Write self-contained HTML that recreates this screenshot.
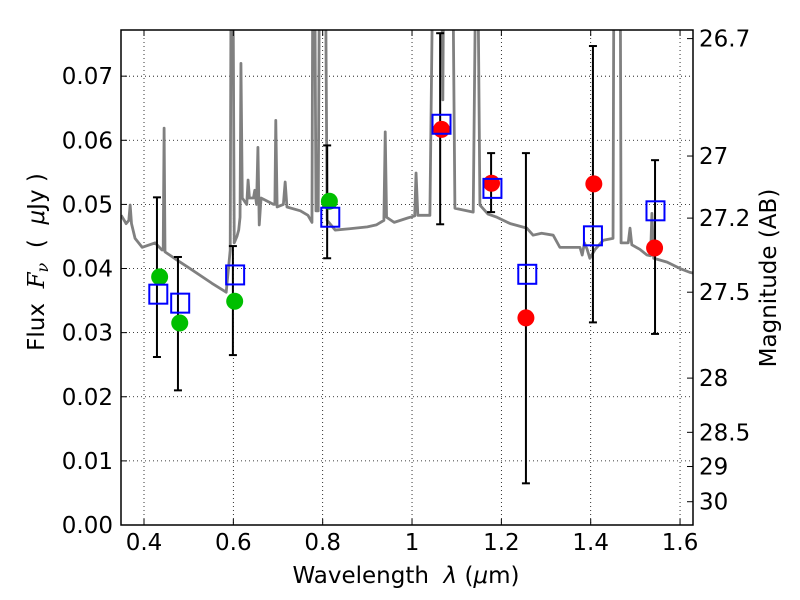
<!DOCTYPE html>
<html><head><meta charset="utf-8">
<style>body{margin:0;background:#fff}svg{display:block;font-family:"DejaVu Sans","Liberation Sans",sans-serif}text{white-space:pre}</style>
</head><body>
<svg id="chart" width="800" height="600" viewBox="0 0 800 600" xmlns="http://www.w3.org/2000/svg"></svg>
<script>
const specLam=[
0.349,0.360,0.366,0.369,0.372,0.380,0.396,0.425,0.440,0.443,
0.445,0.447,0.470,0.503,0.552,0.584,0.593,0.595,0.599,0.602,
0.608,0.612,0.615,0.617,0.620,0.630,0.633,0.636,0.645,0.648,
0.652,0.655,0.658,0.662,0.690,0.693,0.695,0.698,0.712,0.716,
0.720,0.750,0.767,0.776,0.778,0.782,0.785,0.790,0.793,0.806,
0.810,0.828,0.860,0.900,0.920,0.937,0.940,0.943,0.960,0.991,
1.006,1.009,1.013,1.040,1.047,1.066,1.069,1.071,1.091,1.096,
1.137,1.143,1.147,1.152,1.170,1.190,1.220,1.257,1.271,1.290,
1.316,1.331,1.376,1.381,1.386,1.392,1.398,1.410,1.428,1.450,
1.452,1.466,1.468,1.484,1.488,1.492,1.510,1.526,1.534,1.537,
1.541,1.571,1.600,1.622,1.629];
const specFlux=[
0.0483,0.0470,0.0475,0.0499,0.0470,0.0447,0.0433,0.0440,0.0429,0.0429,
0.0619,0.0426,0.0415,0.0400,0.0377,0.0363,0.0429,0.09,0.09,0.0440,
0.0450,0.0460,0.0480,0.0720,0.0510,0.0500,0.0538,0.0510,0.0510,0.0522,
0.0500,0.0589,0.0468,0.0510,0.0500,0.0500,0.0631,0.0496,0.0500,0.0535,
0.0496,0.0490,0.0483,0.0472,0.09,0.09,0.0490,0.0490,0.09,0.09,
0.0475,0.0460,0.0462,0.0465,0.0468,0.0475,0.0613,0.0480,0.0472,0.0479,
0.0482,0.0549,0.0483,0.0483,0.09,0.09,0.0663,0.09,0.09,0.0494,
0.0488,0.09,0.09,0.0499,0.0485,0.0480,0.0470,0.0463,0.0452,0.0455,
0.0452,0.0433,0.0433,0.0421,0.0440,0.0430,0.0416,0.0430,0.0444,0.0447,
0.09,0.09,0.0440,0.0440,0.0463,0.0437,0.0430,0.0421,0.0420,0.0486,
0.0416,0.0410,0.0400,0.0394,0.0393];
const greenLam=[0.435,0.480,0.603,0.815];
const greenFlux=[0.0387,0.0315,0.0349,0.0505];
const redLam=[1.066,1.178,1.255,1.407,1.543];
const redFlux=[0.0617,0.0533,0.0323,0.0532,0.0432];
const modelLam=[0.432,0.481,0.604,0.817,1.066,1.180,1.258,1.405,1.545];
const modelFlux=[0.036,0.0346,0.039,0.048,0.0625,0.0525,0.0391,0.0451,0.049];
const errLam=[0.429,0.476,0.599,0.810,1.063,1.177,1.255,1.405,1.544];
const errHi=[0.0511,0.0418,0.0435,0.0592,0.0767,0.058,0.058,0.0747,0.0569];
const errLo=[0.0262,0.021,0.0265,0.0416,0.0469,0.0488,0.0065,0.0316,0.0298];
const xTicks=[0.4,0.6,0.8,1.0,1.2,1.4,1.6];
const xTickLabels=["0.4","0.6","0.8","1","1.2","1.4","1.6"];
const yTicks=[0,0.01,0.02,0.03,0.04,0.05,0.06,0.07];
const yTickLabels=["0.00","0.01","0.02","0.03","0.04","0.05","0.06","0.07"];
const magTicks=[26.7,27,27.2,27.5,28,28.5,29,30];
const magLabels=["26.7","27","27.2","27.5","28","28.5","29","30"];

const L=121,R=693,T=30,B=525,X0=0.3485,X1=1.629,Y0=0,Y1=0.0772;
const sx=v=>L+(v-X0)/(X1-X0)*(R-L);
const sy=v=>B-(v-Y0)/(Y1-Y0)*(B-T);
const NS="http://www.w3.org/2000/svg";
const svg=document.getElementById('chart');
function mk(tag,attrs,parent){const e=document.createElementNS(NS,tag);for(const k in attrs)e.setAttribute(k,attrs[k]);(parent||svg).appendChild(e);return e;}

const defs=mk('defs',{});
const cp=mk('clipPath',{id:'clip'},defs);mk('rect',{x:L,y:T,width:R-L,height:B-T},cp);

const grid=mk('g',{});


xTicks.forEach(v=>mk('line',{x1:sx(v),x2:sx(v),y1:T,y2:B,stroke:'#000','stroke-width':0.8,'stroke-dasharray':'1,3'},grid));
yTicks.forEach(v=>mk('line',{x1:L,x2:R,y1:sy(v),y2:sy(v),stroke:'#000','stroke-width':0.8,'stroke-dasharray':'1,3'},grid));

const plot=mk('g',{'clip-path':'url(#clip)'});
const sp=mk('polyline',{points:specLam.map((l,i)=>sx(l)+','+sy(specFlux[i])).join(' '),fill:'none',stroke:'#808080','stroke-width':2.8,'stroke-linejoin':'round'},plot);



errLam.forEach((l,i)=>{
  const g=mk('g',{stroke:'#000','stroke-width':2},plot);
  
  
  const x=sx(l),y1=sy(errHi[i]),y2=sy(errLo[i]);
  mk('line',{x1:x,x2:x,y1:y1,y2:y2},g);
  mk('line',{x1:x-4,x2:x+4,y1:y1,y2:y1},g);
  mk('line',{x1:x-4,x2:x+4,y1:y2,y2:y2},g);
});
greenLam.forEach((l,i)=>{
  const c=mk('circle',{cx:sx(l),cy:sy(greenFlux[i]),r:8.5,fill:'#00bf00'},plot);
  
  
});
redLam.forEach((l,i)=>{
  const c=mk('circle',{cx:sx(l),cy:sy(redFlux[i]),r:8.5,fill:'#ff0000'},plot);
  
  
});
modelLam.forEach((l,i)=>{
  const r=mk('rect',{x:sx(l)-9,y:sy(modelFlux[i])-9.5,width:18,height:19,fill:'none',stroke:'#0000ff','stroke-width':2},plot);
  
  
});

const frame=mk('rect',{x:L,y:T,width:R-L,height:B-T,fill:'none',stroke:'#000','stroke-width':1.5});



const FS=23;
xTicks.forEach((v,i)=>{
  mk('line',{x1:sx(v),x2:sx(v),y1:B,y2:B-6,stroke:'#000'});
  mk('line',{x1:sx(v),x2:sx(v),y1:T,y2:T+6,stroke:'#000'});
  const t=mk('text',{x:sx(v),y:B+25,'text-anchor':'middle','font-size':FS});
  t.textContent=xTickLabels[i];
  
  
});
yTicks.forEach((v,i)=>{
  mk('line',{x1:L,x2:L+6,y1:sy(v),y2:sy(v),stroke:'#000'});
  const t=mk('text',{x:L-8,y:sy(v)+8,'text-anchor':'end','font-size':FS});
  t.textContent=yTickLabels[i];
  
  
});
magTicks.forEach((m,i)=>{
  const y=sy(Math.pow(10,(23.9-m)/2.5));
  mk('line',{x1:R,x2:R-6,y1:y,y2:y,stroke:'#000'});
  const t=mk('text',{x:R+6,y:y+8,'font-size':FS});
  t.textContent=magLabels[i];
  
  
});

const xt=mk('text',{x:406,y:583,'text-anchor':'middle','font-size':FS});
xt.innerHTML='Wavelength  <tspan font-style="italic">λ</tspan> (<tspan font-style="italic">μ</tspan>m)';


const yt=mk('text',{x:0,y:0,'text-anchor':'middle','font-size':FS,transform:'translate(44,262) rotate(-90)'});
yt.innerHTML='Flux  <tspan font-family="DejaVu Serif" font-style="italic">F</tspan><tspan font-family="DejaVu Serif" font-style="italic" font-size="16" dy="4">ν</tspan><tspan dy="-4">  (  </tspan><tspan font-style="italic">μ</tspan>Jy )';


const rt=mk('text',{x:0,y:0,'text-anchor':'middle','font-size':FS,transform:'translate(776,278) rotate(-90)'});
rt.textContent='Magnitude (AB)';


</script>
</body></html>
